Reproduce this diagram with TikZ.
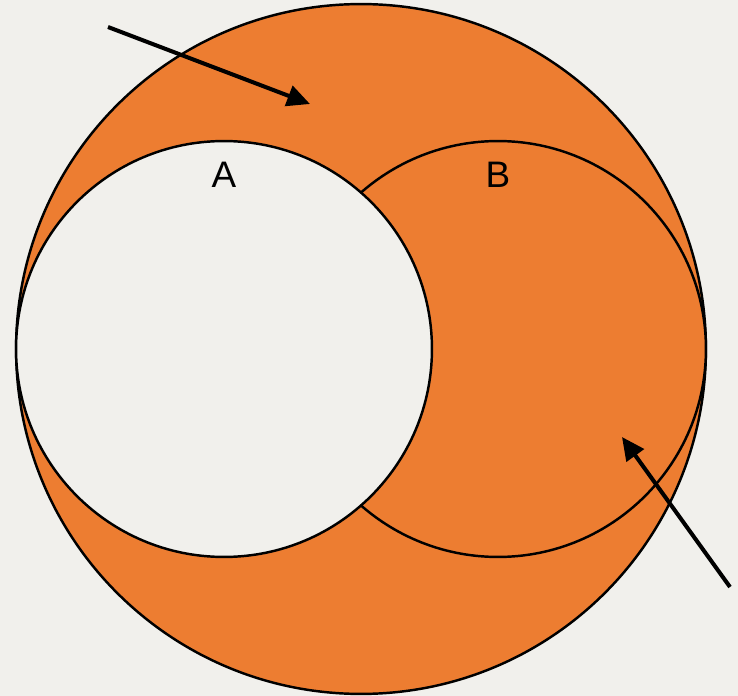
\documentclass[tikz,border=0pt]{standalone}
\usepackage{fontspec}
\setmainfont{Liberation Sans}
\usetikzlibrary{arrows.meta}
\definecolor{setorange}{RGB}{237,125,49}
\definecolor{paper}{RGB}{241,240,236}

\begin{document}
\begin{tikzpicture}[x=0.02cm,y=-0.02cm,>={Triangle[length=13pt,width=12pt]},
  every node/.style={font=\fontsize{21}{25}\selectfont},
  setcircle/.style={draw,circle,line width=1.4pt,inner sep=0pt}]
  \fill[paper] (0,0) rectangle (738,696);
  \useasboundingbox (0,0) rectangle (738,696);
  % universe, B, then A on top
  \node[setcircle,fill=setorange,minimum size=13.8cm] (U) at (361,349) {};
  \node[setcircle,fill=setorange,minimum size=8.32cm] (B) at (498,349) {};
  \node[setcircle,fill=paper,minimum size=8.32cm] (A) at (224,349) {};
  \node (labA) at (224,175) {A};
  \node (labB) at (498,175) {B};
  \coordinate (s1) at (108,27);
  \coordinate (t1) at (310,104);
  \coordinate (s2) at (730,587);
  \coordinate (t2) at (622,437);
  \draw[->,line width=2.3pt] (s1) -- (t1);
  \draw[->,line width=2.3pt] (s2) -- (t2);
\end{tikzpicture}
\end{document}
